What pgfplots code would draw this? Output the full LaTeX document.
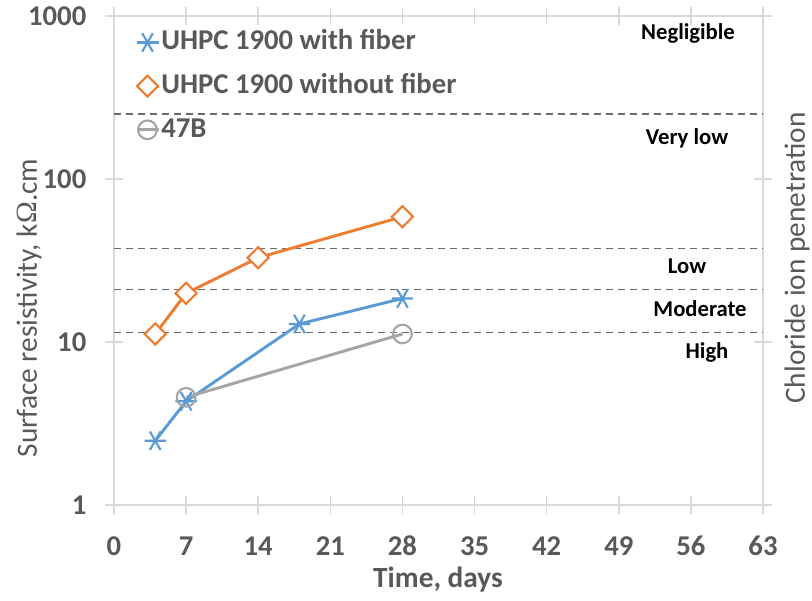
\documentclass[border=0pt]{standalone}
\usepackage[no-math]{fontspec}
\setmainfont{Carlito}
\newfontfamily\serifom{Liberation Serif}
\usepackage{pgfplots}
\pgfplotsset{compat=1.18}

\definecolor{cblue}{HTML}{5B9BD5}
\definecolor{corange}{HTML}{ED7D31}
\definecolor{cgray}{HTML}{A5A5A5}
\definecolor{txtgray}{HTML}{595959}
\definecolor{axgray}{HTML}{D9D9D9}
\definecolor{dashgray}{HTML}{6A6A6A}

\newcommand{\tickfont}{\bfseries\fontsize{21.5}{25}\selectfont}
\newcommand{\catfont}{\bfseries\fontsize{17}{20}\selectfont}

\begin{document}
\begin{tikzpicture}[x=0.75pt,y=0.75pt]
\useasboundingbox (0,0) rectangle (812,600);
\begin{axis}[
  at={(85.5pt,71.25pt)}, anchor=south west,
  scale only axis, width=486.75pt, height=366.75pt,
  ymode=log,
  xmin=0, xmax=63, ymin=1, ymax=1000,
  xtick={0,7,...,63},
  xticklabels={0,7,14,21,28,35,42,49,56,63},
  ytick={1,10,100,1000},
  yticklabels={1,10,100,1000},
  minor ytick={}, yminorticks=false,
  tick align=center,
  major tick length=13.5pt,
  tick style={axgray, line width=1.1pt},
  axis line style={axgray, line width=1.1pt},
  ticklabel style={font=\tickfont, text=txtgray},
  xticklabel style={anchor=center, yshift=-24pt},
  yticklabel style={anchor=east, xshift=-10.5pt},
  clip=false,
  legend style={at={(rel axis cs:0.032,0.975)}, anchor=north west,
    draw=none, fill=none, font=\tickfont, text=txtgray,
    row sep=11.75pt, inner sep=0pt,
    nodes={inner sep=1pt, text height=15pt, text depth=4pt}},
  legend cell align=left,
  legend image code/.code={
    \draw[mark repeat=2,mark phase=2,#1] plot coordinates {(0pt,0pt)(8.25pt,0pt)(16.5pt,0pt)};},
]
% chloride penetration class boundaries
\addplot[forget plot, dashgray, line width=1pt, dash pattern=on 5.5pt off 3.5pt] coordinates {(0,250)(63,250)};
\addplot[forget plot, dashgray, line width=1pt, dash pattern=on 5.5pt off 3.5pt] coordinates {(0,37.5)(63,37.5)};
\addplot[forget plot, dashgray, line width=1pt, dash pattern=on 5.5pt off 3.5pt] coordinates {(0,21)(63,21)};
\addplot[forget plot, dashgray, line width=1pt, dash pattern=on 5.5pt off 3.5pt] coordinates {(0,11.4)(63,11.4)};

\addplot[cblue, line width=2.2pt, mark=asterisk, mark size=8pt, mark options={rotate=90, line width=1.6pt}]
  coordinates {(4,2.48)(7,4.33)(18,12.9)(28,18.5)};
\addlegendentry{UHPC 1900 with fiber}
\addplot[corange, line width=2.2pt, mark=square*, mark size=5.6pt, mark options={rotate=45, fill=white, line width=1.6pt}]
  coordinates {(4,11.2)(7,19.9)(14,32.9)(28,58.7)};
\addlegendentry{UHPC 1900 without fiber}
\addplot[cgray, line width=2.2pt, mark=o, mark size=7pt, mark options={line width=1.6pt}]
  coordinates {(7,4.58)(28,11.2)};
\addlegendentry{47B}
\end{axis}

% class labels
\node[font=\catfont] at (688,600-33) {Negligible};
\node[font=\catfont] at (687,600-138) {Very low};
\node[font=\catfont] at (687,600-266) {Low};
\node[font=\catfont] at (700,600-309) {Moderate};
\node[font=\catfont] at (707,600-352) {High};

% axis titles
\node[rotate=90, text=txtgray, font=\fontsize{22}{26}\selectfont] at (29,600-308)
  {Surface resistivity, k{\serifom Ω}.cm};
\node[rotate=90, text=txtgray, font=\fontsize{22}{26}\selectfont] at (797,600-258)
  {Chloride ion penetration};
\node[text=txtgray, font=\bfseries\fontsize{22}{26}\selectfont] at (438,600-580)
  {Time, days};
\end{tikzpicture}
\end{document}
